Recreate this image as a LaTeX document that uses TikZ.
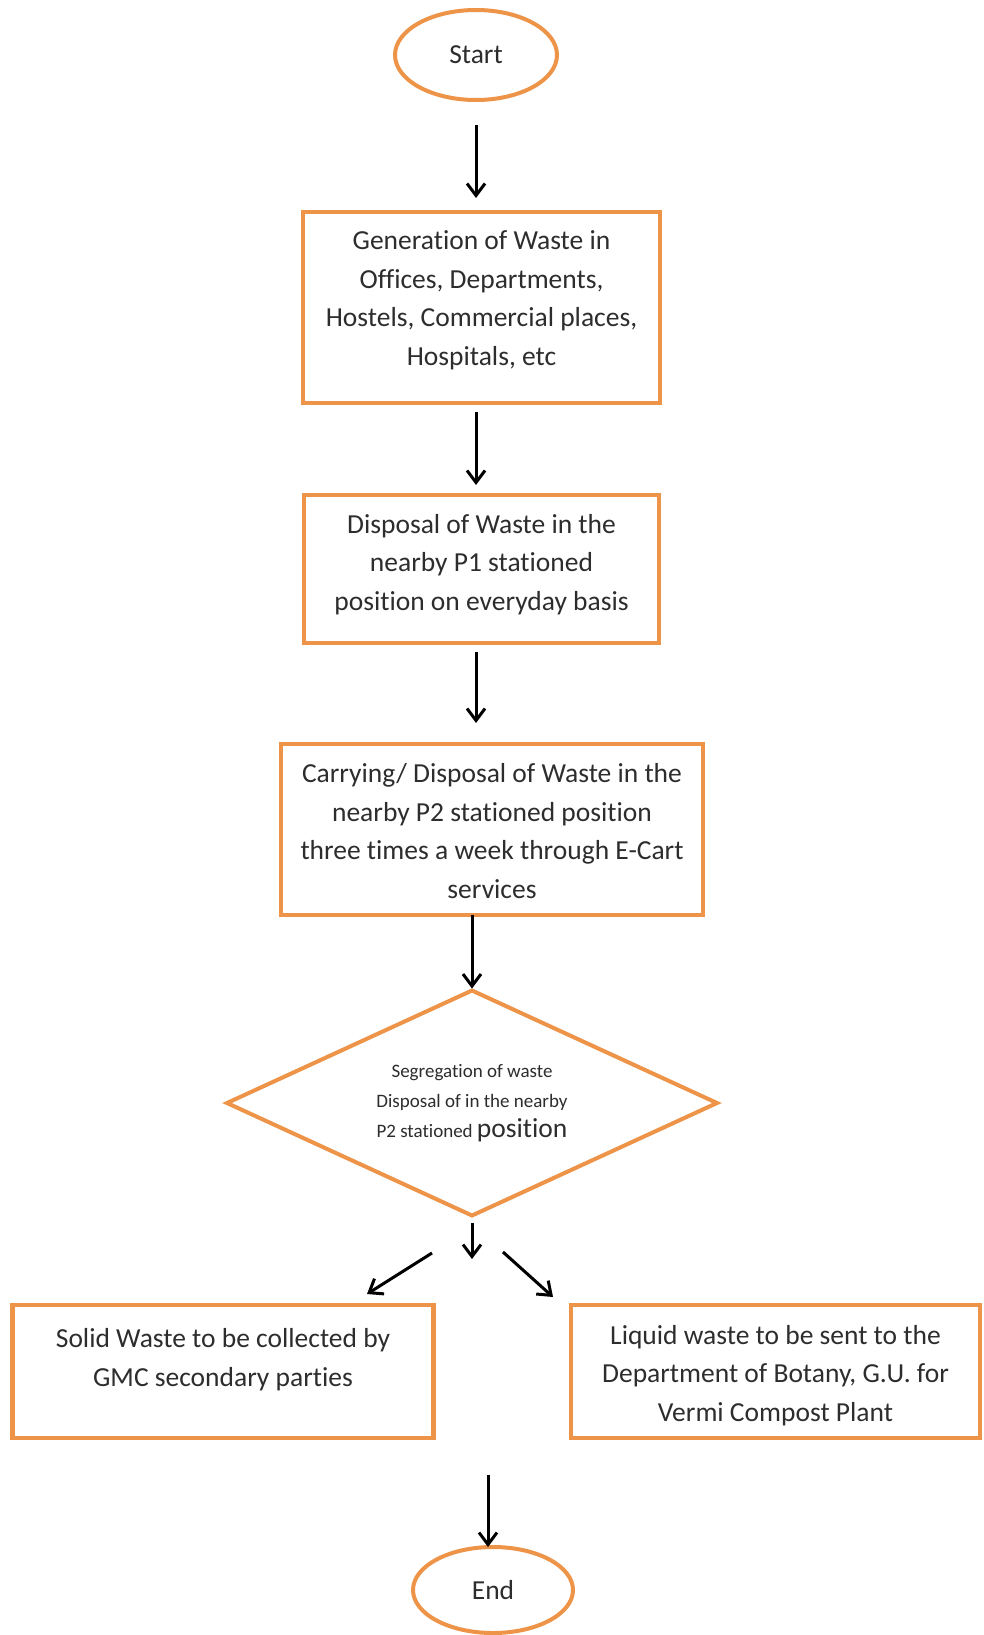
\documentclass[tikz,border=0pt]{standalone}
\usepackage{fontspec}
\setmainfont{Carlito}[Ligatures={NoCommon,NoContextual}]
\usetikzlibrary{shapes.geometric,arrows.meta}
\definecolor{orng}{RGB}{237,148,72}
\definecolor{txt}{RGB}{45,45,45}
\newcommand\tstr[1]{\rule{0pt}{#1}}
\newcommand\bstr[1]{\rule[-#1]{0pt}{0pt}}
\begin{document}
\begin{tikzpicture}[x=1pt,y=-1pt,
  box/.style={draw=orng,line width=4.5pt,rectangle,align=center,inner sep=0pt,outer sep=0pt,
    font=\fontsize{27.5}{38.5}\selectfont,text=txt},
  term/.style={draw=orng,line width=4pt,ellipse,inner sep=0pt,outer sep=0pt,
    font=\fontsize{27.5}{38}\selectfont,text=txt},
  decision/.style={draw=orng,line width=4pt,diamond,aspect=2.18,inner sep=0pt,outer sep=0pt,
    align=center,font=\fontsize{19}{30}\selectfont,text=txt},
  arr/.style={line width=3pt,-{Straight Barb[length=12pt,width=18pt,line width=3pt]}},
]
\useasboundingbox (0,0) rectangle (983,1635);
\fill[white] (0,0) rectangle (983,1635);

\node[term,minimum width=162pt,minimum height=90pt] (start) at (476,55) {Start};
\node[box,minimum width=357pt,minimum height=191pt] (gen) at (481.5,307.5)
  {\tstr{22pt}Generation of Waste in\\Offices, Departments,\\Hostels, Commercial places,\\Hospitals, etc\bstr{22pt}};
\node[box,minimum width=355pt,minimum height=148pt] (disp) at (481.5,569)
  {\tstr{28pt}Disposal of Waste in the\\nearby P1 stationed\\position on everyday basis\bstr{22.2pt}};
\node[box,minimum width=422pt,minimum height=171pt] (carry) at (492,829.5)
  {\tstr{30pt}Carrying/ Disposal of Waste in the\\nearby P2 stationed position\\three times a week through E-Cart\\services\bstr{8.4pt}};
\node[decision,minimum width=490pt,minimum height=225pt] (seg) at (472,1103)
  {Segregation of waste\\Disposal of in the nearby\\P2 stationed {\fontsize{27.5}{30}\selectfont position}};
\node[box,minimum width=421pt,minimum height=133pt] (solid) at (223,1371.5)
  {\tstr{22pt}Solid Waste to be collected by\\GMC secondary parties\bstr{30.6pt}};
\node[box,minimum width=409pt,minimum height=133pt] (liquid) at (775.5,1371.5)
  {\tstr{31pt}Liquid waste to be sent to the\\Department of Botany, G.U. for\\Vermi Compost Plant\bstr{8.2pt}};
\node[term,minimum width=160pt,minimum height=86pt] (end) at (493,1590) {End};

\coordinate (c5) at (470,1259);
\coordinate (l1) at (432,1253);
\coordinate (l2) at (367,1294);
\coordinate (r1) at (503,1252);
\coordinate (r2) at (553,1297);
\coordinate (e1) at (488,1475);

\draw[arr,shorten <=25pt,shorten >=14pt] (start.south) -- (start.south |- gen.north);
\draw[arr,shorten <=9pt,shorten >=10pt] ([xshift=-5.5pt]gen.south) -- ([xshift=-5.5pt]disp.north);
\draw[arr,shorten <=9pt,shorten >=21pt] ([xshift=-5.5pt]disp.south) -- ([xshift=-16pt]carry.north);
\draw[arr,shorten >=2pt] (carry.south -| seg.north) -- (seg.north);
\draw[arr,shorten <=7pt] (seg.south) -- (seg.south |- c5);
\draw[arr] (l1) -- (l2);
\draw[arr] (r1) -- (r2);
\draw[arr] (e1) -- (e1 |- end.north);
\end{tikzpicture}
\end{document}
